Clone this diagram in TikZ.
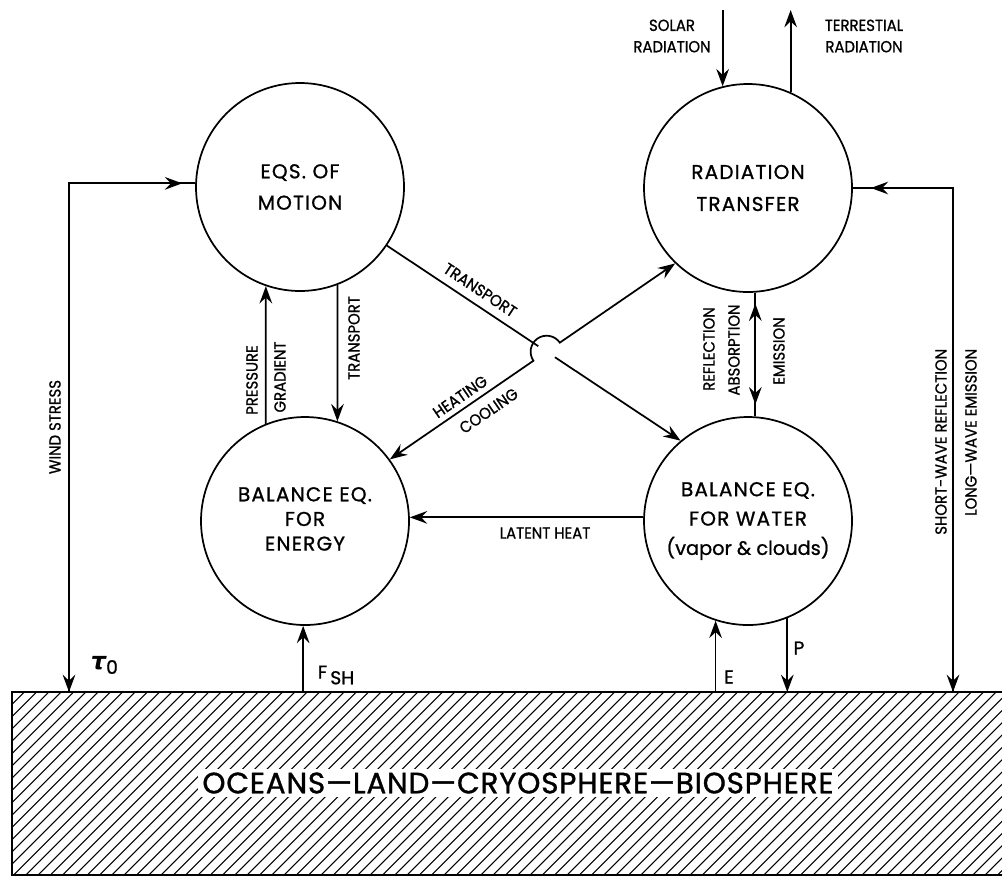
\documentclass[tikz,border=0pt]{standalone}
\usepackage{fontspec}
\setmainfont{Poppins}[FakeBold=1]
\newfontfamily\circfont{Poppins}[FakeBold=1,LetterSpace=6]
\newfontfamily\labfont{Poppins}[FakeBold=1,FakeStretch=0.93]
\newfontfamily\bigfont{Poppins}[FakeBold=1.2,LetterSpace=3]
\newfontfamily\greekfont{DejaVu Sans}
\usetikzlibrary{arrows.meta,calc}
\begin{document}
\begin{tikzpicture}[x=0.75pt,y=0.75pt,
  line width=1.3pt,
  tip/.tip={Stealth[length=13pt,width=9.5pt,inset=4.5pt]},
  arr/.style={-tip},
  arrs/.style={tip-tip},
  bubble/.style={draw,circle,minimum size=156pt,inner sep=0pt,align=center,
    font=\circfont\fontsize{15}{23.5}\selectfont},
  lab/.style={font=\labfont\fontsize{12}{16}\selectfont,inner sep=0pt,align=center},
  vlab/.style={lab,rotate=90},
  sym/.style={font=\fontsize{14}{16}\selectfont,inner sep=0pt},
]
\useasboundingbox (0,0) rectangle (1002,-879);

% ground block with hatching
\begin{scope}
  \clip (12,-692) rectangle (1002,-875);
  \foreach \k in {0,...,96}
    \draw[line width=0.8pt] (-171+\k*12.3,-875) -- ++(183,183);
\end{scope}
\draw (1002,-692) -- (12,-692) -- (12,-875) -- (1002,-875);
\node[fill=white,inner sep=3pt,font=\bigfont\fontsize{22}{22}\selectfont] (earth) at (518,-783)
  {OCEANS—LAND—CRYOSPHERE—BIOSPHERE};
\coordinate (gnd) at (12,-692);
\coordinate (sky) at (0,-10);

% the four balance equations
\node[bubble] (motion) at (300,-187) {EQS.\ OF\\MOTION};
\node[bubble,font=\circfont\fontsize{15}{24}\selectfont] (rad) at (748,-188) {RADIATION\\TRANSFER};
\node[bubble,font=\circfont\fontsize{15}{18.5}\selectfont] (energy) at (305,-521)
  {\raisebox{3pt}{\begin{tabular}{@{}c@{}}BALANCE EQ.\\FOR\\ENERGY\end{tabular}}};
\node[bubble,font=\circfont\fontsize{15}{22}\selectfont] (water) at (748,-521)
  {BALANCE EQ.\\FOR WATER\\{\rmfamily\fontsize{14.5}{22}\selectfont (vapor \& clouds)}};

% radiation at the top of the atmosphere
\draw[arr] (rad.104.5 |- sky) -- (rad.104.5);
\draw[arr] (rad.66.2) -- (rad.66.2 |- sky);
\node[lab] (solar) at (672,-36) {SOLAR\\RADIATION};
\node[lab] (terr) at (864,-36) {TERRESTIAL\\RADIATION};

% wind stress
\coordinate (wsfoot) at (69,-692);
\draw (motion.178) -- (motion.178 -| wsfoot) -- (wsfoot);
\draw[arr] ($(motion.178)+(-40,0)$) -- ($(motion.178)+(-13,0)$);
\draw[arr] ($(wsfoot)+(0,30)$) -- (wsfoot);
\node[vlab] (wind) at (55,-427) {WIND STRESS};
\node[sym,anchor=west] (tau) at (90,-665)
  {{\greekfont\fontsize{18}{18}\selectfont\bfseries\itshape τ}\raisebox{-0.45ex}{\fontsize{14}{14}\selectfont 0}};

% surface radiation exchange
\coordinate (swfoot) at (953,-692);
\draw (rad.east) -- (rad.east -| swfoot) -- (swfoot);
\draw[arr] ($(rad.east)+(45,0)$) -- ($(rad.east)+(18,0)$);
\draw[arr] ($(swfoot)+(0,30)$) -- (swfoot);
\node[vlab,anchor=east] (sw) at (941,-348) {SHORT-WAVE REFLECTION};
\node[vlab,anchor=east] (lw) at (971,-348) {LONG—WAVE EMISSION};

% motion <-> energy
\draw[arr] (energy.112) -- (motion.-109);
\draw[arr] (motion.-69) -- (energy.72);
\node[vlab] (press) at (252,-380) {PRESSURE};
\node[vlab] (grad) at (280,-377) {GRADIENT};
\node[vlab] (trv) at (354,-338) {TRANSPORT};

% radiation <-> water
\draw (rad.-86.7) -- (water.86.7);
\draw[arr] ($(rad.-86.7)+(0,-40)$) -- ($(rad.-86.7)+(0,-11)$);
\draw[arr] ($(water.86.7)+(0,40)$) -- ($(water.86.7)+(0,12)$);
\node[vlab] (refl) at (709,-349) {REFLECTION};
\node[vlab] (abso) at (734,-350) {ABSORPTION};
\node[vlab] (emis) at (779,-351) {EMISSION};

% water -> energy
\draw[arr] (water.178) -- (water.178 -| energy.east);
\node[lab] (latent) at (545,-533) {LATENT HEAT};

% surface fluxes
\draw[arr] (energy.-91 |- gnd) -- (energy.-91);
\draw[arr] (water.-108 |- gnd) -- (water.-108);
\draw[arr] (water.-68) -- (water.-68 |- gnd);
\node[sym] (fsh) at (336,-675) {F\,\raisebox{-0.55ex}{SH}};
\node[sym] (evap) at (729,-677) {E};
\node[sym] (prec) at (799,-648) {P};

% crossing diagonals
\coordinate (t1) at (motion.-34);
\coordinate (t2) at (water.130);
\coordinate (h1) at (energy.36);
\coordinate (h2) at (rad.226.5);
\coordinate (X) at (intersection of t1--t2 and h1--h2);
\draw (t1) -- ($(X)!7.5pt!(t1)$);
\draw[arr] ($(X)!7.5pt!(t2)$) -- (t2);
\draw[arrs] let \p1=($(h2)-(h1)$), \n1={atan2(\y1,\x1)} in
  (h1) -- ($(X)!12pt!(h1)$) arc[start angle=\n1+180, end angle=\n1, radius=12pt] -- (h2);
\path (t1) -- (t2) node[lab,pos=0.29,sloped,above=6pt] (trd) {TRANSPORT};
\path (h1) -- (h2) node[lab,pos=0.27,sloped,above=4pt] (heat) {HEATING}
                   node[lab,pos=0.315,sloped,below=7pt] (cool) {COOLING};
\end{tikzpicture}
\end{document}
